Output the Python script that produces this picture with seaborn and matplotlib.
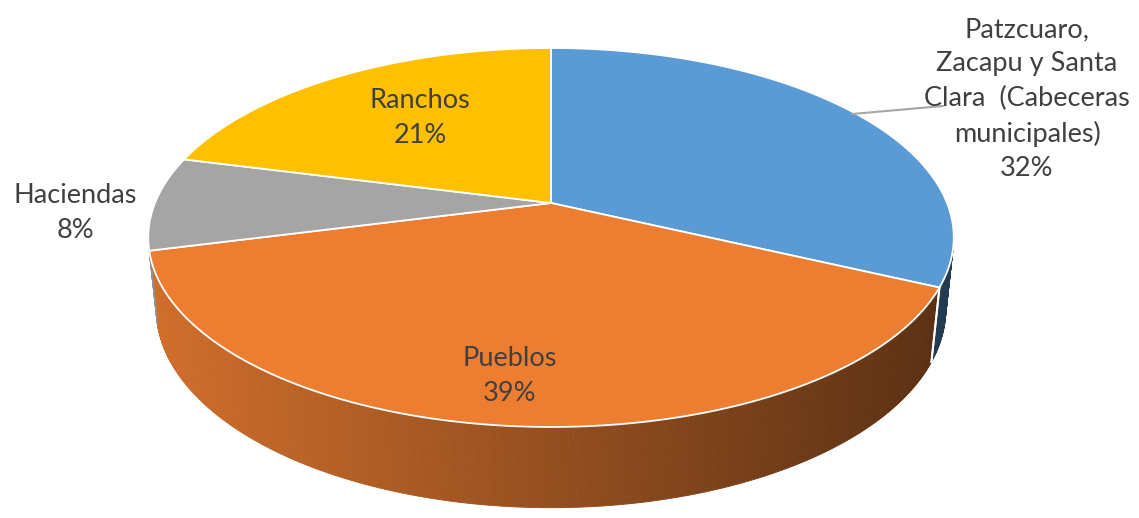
import numpy as np
import matplotlib
matplotlib.use("Agg")
import matplotlib.pyplot as plt
from matplotlib.patches import Polygon
from matplotlib.colors import to_rgb
import seaborn as sns

# Chart data
categories = ["Patzcuaro,\nZacapu y Santa\nClara  (Cabeceras\nmunicipales)",
              "Pueblos", "Haciendas", "Ranchos"]
shares = [32, 39, 8, 21]
colors = ["#5B9BD5", "#ED7D31", "#A5A5A5", "#FFC000"]

# Label anchor points (pixel space) for each category
label_xy = [(1027, 99), (510, 376), (75, 213), (420, 118)]

sns.set_theme(style="white")
plt.rcParams["font.family"] = ["Lato", "DejaVu Sans"]

W, H = 1139, 518
fig = plt.figure(figsize=(W / 100, H / 100), dpi=100)
ax = fig.add_axes([0, 0, 1, 1])
ax.set_xlim(0, W)
ax.set_ylim(H, 0)
ax.axis("off")

# Perspective camera for the 3-D disc
ELEV = np.arcsin(0.4626)
DIST = 4.871
FOCAL = 1929.0
THICK = 0.205
CX, CY = 551.0, 203.0


def project(phi, z):
    """phi: clockwise angle from the back of the disc (radians); z: height."""
    u, v = np.sin(phi), np.cos(phi)
    depth = DIST + v * np.cos(ELEV) - z * np.sin(ELEV)
    x = CX + FOCAL * u / depth
    y = CY - FOCAL * (v * np.sin(ELEV) + z * np.cos(ELEV)) / depth
    return x, y


def shade(color, x):
    f = np.clip(0.88 - (x - 150) * 0.000625, 0.3, 1.0)
    r, g, b = to_rgb(color)
    return (r * f, g * f, b * f)


fracs = np.array(shares, dtype=float) / np.sum(shares)
bounds = np.concatenate([[0], np.cumsum(fracs)]) * 2 * np.pi

# Visible front wall spans between the two silhouette angles
g = np.cos(ELEV) / DIST
phi_right = np.arccos(-g)
phi_left = 2 * np.pi - phi_right
seam_margin = np.radians(6)

# Side walls
for i, col in enumerate(colors):
    a0 = max(bounds[i], phi_right)
    a1 = min(bounds[i + 1], phi_left)
    if a1 <= a0:
        continue
    n = max(int((a1 - a0) / np.radians(0.5)), 2)
    ph = np.linspace(a0, a1, n + 1)
    for k in range(n):
        p0, p1 = ph[k], ph[k + 1]
        xt0, yt0 = project(p0, 0)
        xt1, yt1 = project(p1, 0)
        xb1, yb1 = project(p1, -THICK)
        xb0, yb0 = project(p0, -THICK)
        c = shade(col, 0.5 * (xt0 + xt1))
        ax.add_patch(Polygon([(xt0, yt0), (xt1, yt1), (xb1, yb1), (xb0, yb0)],
                             closed=True, facecolor=c, edgecolor=c, lw=0.6))
    # wall seam at slice boundaries
    for b in (bounds[i], bounds[i + 1]):
        if phi_right + seam_margin < b < phi_left - seam_margin:
            xa, ya = project(b, 0)
            xb, yb = project(b, -THICK)
            ax.plot([xa, xb], [ya, yb], color="white", lw=1.4, solid_capstyle="round")

# Top faces
for i, col in enumerate(colors):
    ph = np.linspace(bounds[i], bounds[i + 1], 200)
    xs, ys = project(ph, 0)
    pts = [(CX, CY)] + list(zip(xs, ys))
    ax.add_patch(Polygon(pts, closed=True, facecolor=col, edgecolor="white",
                         lw=1.3, joinstyle="round"))

# Leader line for the first label
ax.plot([852, 943], [114, 106], color="#A6A6A6", lw=1.5)

# Labels
for name, share, (lx, ly) in zip(categories, shares, label_xy):
    ax.text(lx, ly, f"{name}\n{share}%", ha="center", va="center",
            fontsize=19.5, color="#404040", linespacing=1.46)

fig.savefig("out.png", dpi=100, facecolor="white")
